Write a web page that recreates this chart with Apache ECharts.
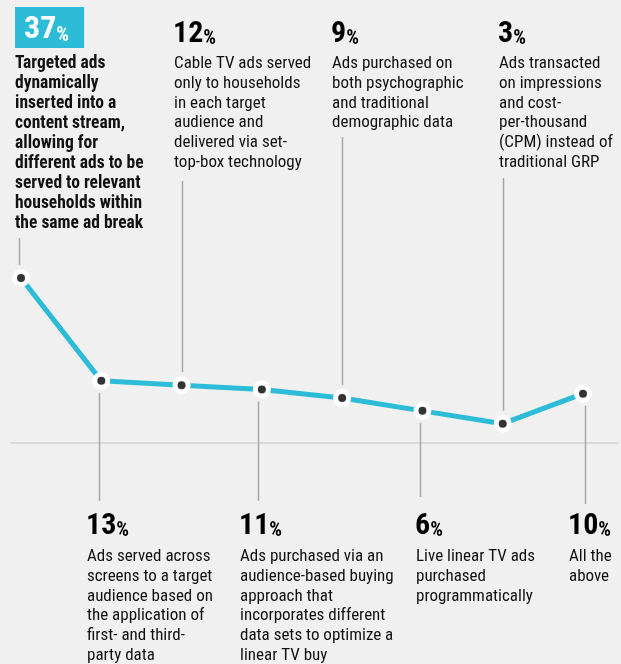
<!DOCTYPE html>
<html>
<head>
<meta charset="utf-8">
<script src="https://cdn.jsdelivr.net/npm/echarts@6/dist/echarts.min.js"></script>
<style>
html,body{margin:0;padding:0;background:#f0f0f0;}
#chart{width:621px;height:664px;}
</style>
</head>
<body>
<div id="chart"></div>
<script>
// ---- data ----
var categories = ['Dynamic ad insertion', 'Cross-screen targeting', 'Addressable cable TV', 'Audience-based buying', 'Psychographic + demographic', 'Programmatic live linear', 'CPM transactions', 'All the above'];
var values = [37, 13, 12, 11, 9, 6, 3, 10];
var valueLabels = ['37', '13', '12', '11', '9', '6', '3', '10'];
var descriptions = [
  'Targeted ads\ndynamically\ninserted into a\ncontent stream,\nallowing for\ndifferent ads to be\nserved to relevant\nhouseholds within\nthe same ad break',
  'Ads served across\nscreens to a target\naudience based on\nthe application of\nfirst- and third-\nparty data',
  'Cable TV ads served\nonly to households\nin each target\naudience and\ndelivered via set-\ntop-box technology',
  'Ads purchased via an\naudience-based buying\napproach that\nincorporates different\ndata sets to optimize a\nlinear TV buy',
  'Ads purchased on\nboth psychographic\nand traditional\ndemographic data',
  'Live linear TV ads\npurchased\nprogrammatically',
  'Ads transacted\non impressions\nand cost-\nper-thousand\n(CPM) instead of\ntraditional GRP',
  'All the\nabove'
];
var labelSide = ['top', 'bottom', 'top', 'bottom', 'top', 'bottom', 'top', 'bottom'];

(function () {
// ---- layout / style ----
var FONT = "'Roboto Condensed', 'Liberation Sans', sans-serif";
var CYAN = '#2cbcd7';
var textX = [15, 86, 173, 239, 331, 415, 498, 568];
var leaderX = [-2, -2, 0, -4, 0, -2, 0, 2];
var leaderFar = [238, 501, 181, 501, 137, 497, 178, 504];

var chart = echarts.init(document.getElementById('chart'), null, {renderer: 'canvas'});
var option = {
  backgroundColor: '#f0f0f0',
  animation: false,
  grid: [
    {left: 21, right: 38, top: 278, bottom: 221},
    {left: 11, right: 3, top: 278, bottom: 221}
  ],
  xAxis: [
    {type: 'category', gridIndex: 0, data: categories, boundaryGap: false, show: false},
    {type: 'value', gridIndex: 1, min: 0, max: 1,
     axisLine: {show: true, lineStyle: {color: '#d9d9d9', width: 2}},
     axisTick: {show: false}, axisLabel: {show: false}, splitLine: {show: false}}
  ],
  yAxis: [
    {type: 'value', gridIndex: 0, min: -1.5, max: 37, show: false},
    {type: 'value', gridIndex: 1, min: 0, max: 1, show: false}
  ],
  series: [{
    type: 'line',
    xAxisIndex: 0, yAxisIndex: 0,
    data: values,
    clip: false,
    z: 5,
    lineStyle: {color: CYAN, width: 5},
    symbol: 'circle',
    symbolSize: 18,
    itemStyle: {color: '#fff', borderWidth: 0},
    label: {show: false}
  }, {
    type: 'scatter',
    xAxisIndex: 0, yAxisIndex: 0,
    data: values,
    clip: false,
    z: 6,
    symbol: 'circle',
    symbolSize: 8,
    itemStyle: {color: '#000'}
  }]
};
chart.setOption(option);

var graphics = [];
for (var i = 0; i < values.length; i++) {
  var p = chart.convertToPixel({seriesIndex: 0}, [i, values[i]]);
  var lx = Math.round(p[0] + leaderX[i]) + 0.5;
  var isTop = labelSide[i] === 'top';
  var near = isTop ? p[1] - 13 : p[1] + 12;
  graphics.push({
    type: 'line', silent: true, z: 1,
    shape: {x1: lx, y1: isTop ? leaderFar[i] : near, x2: lx, y2: isTop ? near : leaderFar[i]},
    style: {stroke: '#a8a8a8', lineWidth: 1.5}
  });
  var isFirst = (i === 0);
  var numY = isTop ? 13 : 505;
  var descY = isTop ? 54 : 547;
  graphics.push({
    type: 'text', silent: true, z: 10,
    x: textX[i], y: isFirst ? 7 : numY,
    style: {
      text: '{n|' + valueLabels[i] + '}{p|%}',
      fill: isFirst ? '#fff' : '#111',
      backgroundColor: isFirst ? CYAN : 'transparent',
      padding: isFirst ? [3, 15, 2, 9] : 0,
      verticalAlign: 'top',
      rich: {
        n: {fontFamily: FONT, fontWeight: 'bold', fontSize: isFirst ? 32 : 30, lineHeight: 36, verticalAlign: 'bottom', fill: isFirst ? '#fff' : '#000'},
        p: {fontFamily: FONT, fontWeight: 'bold', fontSize: 20, lineHeight: 33, verticalAlign: 'bottom', fill: isFirst ? '#fff' : '#000'}
      }
    }
  });
  graphics.push({
    type: 'text', silent: true, z: 10,
    x: textX[i] + (isFirst ? 0 : 1), y: descY,
    style: {
      text: descriptions[i],
      fill: '#111',
      fontFamily: FONT,
      fontWeight: isFirst ? 'bold' : 'normal',
      fontSize: isFirst ? 17.5 : 17,
      lineHeight: isFirst ? 20 : 19.7,
      verticalAlign: 'top'
    }
  });
}
chart.setOption({graphic: graphics});
})();
</script>
</body>
</html>
